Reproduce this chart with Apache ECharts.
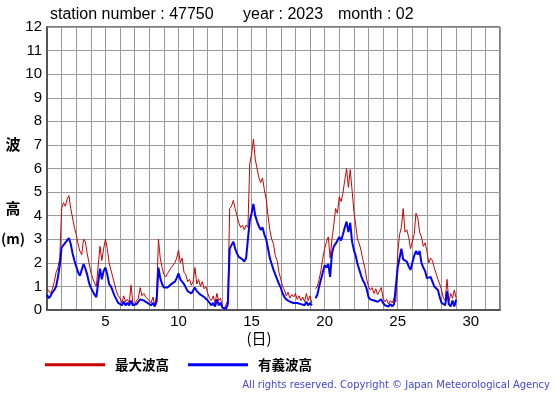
<!DOCTYPE html>
<html>
<head>
<meta charset="utf-8">
<script src="https://cdn.jsdelivr.net/npm/echarts@6/dist/echarts.min.js"></script>
<style>
html,body{margin:0;padding:0;background:#fff;}
#chart{width:555px;height:395px;}
</style>
</head>
<body>
<div id="chart"></div>
<script>
// Sampling: first sample at day 1.0, one sample every 3 hours (0.125 day)
var startDay = 1;
var stepDays = 0.125;

// 最大波高 (max wave height, m), days 1..29
var maxWave = [
  0.9, 0.8, 0.7, 0.9, 1.2, 1.6, 1.8, 2.2,
  4.3, 4.55, 4.4, 4.7, 4.85, 4.3, 3.9, 3.5,
  3.2, 2.8, 2.5, 2.35, 3.0, 2.9, 2.4, 2.0,
  1.6, 1.35, 1.15, 1.0, 0.95, 2.7, 2.1, 2.6,
  3.0, 2.6, 2.0, 1.7, 1.4, 1.1, 0.8, 0.6,
  0.5, 0.3, 0.6, 0.35, 0.45, 0.3, 1.05, 0.3,
  0.2, 0.4, 0.5, 0.95, 0.6, 0.7, 0.55, 0.5,
  0.4, 0.3, 0.55, 0.2, 0.6, 3.0, 2.2, 1.8,
  1.5, 1.4, 1.55, 1.6, 1.8, 1.75, 2.0, 2.2,
  2.55, 2.0, 2.2, 1.6, 1.5, 1.2, 1.3, 1.05,
  1.2, 1.8, 1.1, 1.3, 1.0, 1.2, 0.9, 1.0,
  0.7, 0.5, 0.4, 0.6, 0.3, 0.7, 0.4, 0.5,
  0.15, 0.05, 0.1, 0.4, 4.3, 4.4, 4.65, 4.3,
  4.0, 3.7, 3.5, 3.6, 3.4, 3.6, 3.5, 6.2,
  6.6, 7.25, 6.4, 6.0, 5.6, 5.4, 5.6, 5.1,
  4.7, 4.0, 3.4, 3.0, 2.8, 2.3, 2.1, 1.6,
  1.3, 1.0, 0.85, 0.6, 0.75, 0.5, 0.65, 0.55,
  0.7, 0.45, 0.6, 0.4, 0.55, 0.35, 0.7, 0.4,
  0.6, 0.3, null, 0.9, 1.0, 1.3, 1.7, 2.2,
  2.6, 2.9, 3.1, 2.2, 3.0, 3.6, 4.3, 4.1,
  4.8, 4.6, 4.95, 5.5, 6.0, 5.2, 5.95, 5.1,
  4.2, 3.6, 3.0, 2.8, 2.5, 2.1, 1.8, 1.3,
  1.0, 0.85, 0.95, 0.7, 0.9, 0.65, 0.8, 0.95,
  0.5, 0.35, 0.45, 0.25, 0.4, 0.3, 0.5, 0.35,
  2.4, 3.2, 3.5, 4.3, 3.3, 3.4, 3.1, 2.6,
  2.6, 3.2, 4.1, 3.9, 3.3, 3.1, 2.7, 2.85,
  2.5, 2.0, 2.2, 2.1, 1.8, 1.75, 1.3, 1.1,
  0.85, 0.5, 0.4, 1.3, 0.35, 0.7, 0.5, 0.85,
  0.5
];

// 有義波高 (significant wave height, m)
var sigWave = [
  0.65, 0.5, 0.6, 0.75, 0.85, 1.0, 1.4, 1.9,
  2.65, 2.75, 2.8, 2.95, 3.05, 2.8, 2.4, 2.1,
  1.85, 1.6, 1.45, 1.45, 1.95, 1.75, 1.5, 1.15,
  0.95, 0.8, 0.65, 0.55, 0.6, 1.75, 1.3, 1.65,
  1.8, 1.5, 1.1, 1.0, 0.8, 0.6, 0.45, 0.3,
  0.3, 0.2, 0.35, 0.2, 0.3, 0.2, 0.4, 0.2,
  0.15, 0.25, 0.35, 0.45, 0.4, 0.4, 0.35, 0.3,
  0.3, 0.2, 0.3, 0.15, 0.35, 1.8, 1.35, 1.1,
  0.95, 0.9, 0.95, 1.0, 1.1, 1.05, 1.2, 1.35,
  1.55, 1.3, 1.35, 1.1, 0.95, 0.8, 0.85, 0.7,
  0.75, 0.95, 0.8, 0.85, 0.65, 0.7, 0.55, 0.6,
  0.4, 0.3, 0.2, 0.3, 0.15, 0.45, 0.2, 0.3,
  0.1, 0.02, 0.05, 0.25, 2.6, 2.75, 2.9, 2.6,
  2.4, 2.25, 2.2, 2.15, 2.05, 2.2, 2.2, 3.8,
  4.1, 4.5, 4.0, 3.75, 3.55, 3.4, 3.5, 3.2,
  3.0, 2.6, 2.2, 1.95, 1.7, 1.5, 1.3, 1.1,
  0.95, 0.7, 0.55, 0.45, 0.4, 0.35, 0.4, 0.3,
  0.35, 0.3, 0.35, 0.25, 0.3, 0.2, 0.35, 0.2,
  0.3, 0.2, null, 0.5, 0.65, 1.0, 1.3, 1.6,
  1.9, 1.8, 1.95, 1.4, 2.4, 2.7, 2.8, 2.95,
  3.1, 2.95, 3.2, 3.5, 3.75, 3.3, 3.7, 2.9,
  2.55, 2.3, 1.95, 1.7, 1.45, 1.25, 1.1, 0.9,
  0.55, 0.45, 0.45, 0.4, 0.45, 0.35, 0.4, 0.45,
  0.3, 0.2, 0.25, 0.15, 0.25, 0.15, 0.25, 0.2,
  1.8, 2.2, 2.6, 2.15, 2.1, 2.05, 1.85, 1.7,
  2.0, 2.3, 2.5, 2.35, 2.5, 2.0, 1.8, 1.65,
  1.35, 1.35, 1.4, 1.2, 1.0, 0.95, 0.85, 0.55,
  0.3, 0.25, 0.2, 0.8, 0.25, 0.15, 0.4, 0.15,
  0.45
];

var seriesNames = ['最大波高', '有義波高'];
var xLabelDays = [5, 10, 15, 20, 25, 30];
var titleParts = ['station number : 47750', 'year : 2023', 'month : 02'];

function toPoints(arr) {
  return arr.map(function (v, i) { return [startDay + i * stepDays, v]; });
}

var chart = echarts.init(document.getElementById('chart'), null, {renderer: 'canvas'});
var latin = 'Liberation Sans, Arial, sans-serif';
var cjk = 'Noto Sans CJK JP, sans-serif';

chart.setOption({
  animation: false,
  backgroundColor: '#fff',
  grid: {left: 47, top: 27, width: 453, height: 283, show: true, borderColor: '#000', borderWidth: 1, backgroundColor: 'transparent'},
  xAxis: {
    type: 'value', min: 1, max: 32, interval: 1,
    axisLine: {show: true, onZero: false, lineStyle: {color: '#555', width: 2}},
    axisTick: {show: false},
    splitLine: {show: true, lineStyle: {color: '#999', width: 1}},
    axisLabel: {
      fontFamily: latin, fontSize: 15, color: '#000', margin: 4,
      formatter: function (v) { return xLabelDays.indexOf(v) >= 0 ? String(v) : ''; }
    }
  },
  yAxis: {
    type: 'value', min: 0, max: 12, interval: 1,
    axisLine: {show: true, lineStyle: {color: '#555', width: 2}},
    axisTick: {show: false},
    splitLine: {show: true, lineStyle: {color: '#999', width: 1}},
    axisLabel: {fontFamily: latin, fontSize: 15, color: '#000', margin: 5}
  },
  legend: {
    left: 40, top: 353,
    itemWidth: 60, itemHeight: 3, itemGap: 19,
    icon: 'rect',
    textStyle: {fontFamily: cjk, fontSize: 13.5, fontWeight: 'bold', color: '#000', padding: [0, 0, 0, 5]},
    data: seriesNames
  },
  series: [
    {name: seriesNames[0], type: 'line', showSymbol: false, connectNulls: false,
     lineStyle: {color: '#cc0000', width: 1}, itemStyle: {color: '#cc0000'},
     data: toPoints(maxWave)},
    {name: seriesNames[1], type: 'line', showSymbol: false, connectNulls: false,
     lineStyle: {color: '#0000ff', width: 2}, itemStyle: {color: '#0000ff'},
     data: toPoints(sigWave)}
  ],
  graphic: [
    {type: 'text', left: 50, top: 7, style: {text: titleParts[0], font: '16px ' + latin, fill: '#000'}},
    {type: 'text', left: 243, top: 7, style: {text: titleParts[1], font: '16px ' + latin, fill: '#000'}},
    {type: 'text', left: 338, top: 7, style: {text: titleParts[2], font: '16px ' + latin, fill: '#000'}},
    {type: 'text', x: 13, y: 144, style: {text: '波', font: 'bold 15px ' + cjk, fill: '#000', align: 'center', verticalAlign: 'middle'}},
    {type: 'text', x: 13, y: 208, style: {text: '高', font: 'bold 15px ' + cjk, fill: '#000', align: 'center', verticalAlign: 'middle'}},
    {type: 'text', x: 13, y: 239, style: {text: '(m)', font: 'bold 14px ' + cjk, fill: '#000', align: 'center', verticalAlign: 'middle'}},
    {type: 'text', x: 259, y: 338, style: {text: '(日)', font: '15px ' + cjk, fill: '#000', align: 'center', verticalAlign: 'middle'}},
    {type: 'text', right: 5, y: 380, style: {text: 'All rights reserved. Copyright © Japan Meteorological Agency', font: '10px DejaVu Sans, sans-serif', fill: '#4444dd'}}
  ]
});
</script>
</body>
</html>
